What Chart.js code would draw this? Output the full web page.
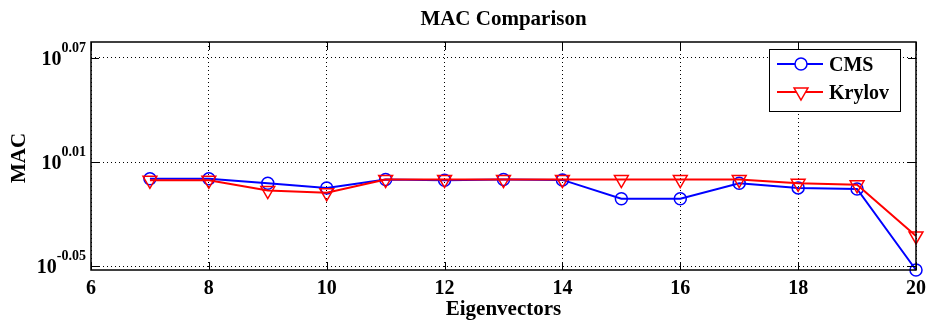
<!DOCTYPE html>
<html>
<head>
<meta charset="utf-8">
<title>MAC Comparison</title>
<script src="https://cdn.jsdelivr.net/npm/chart.js@4.4.1/dist/chart.umd.min.js"></script>
<style>
    html, body { margin: 0; padding: 0; background: #fff; }
    #wrap { width: 932px; height: 323px; }
</style>
</head>
<body>
<div id="wrap"><canvas id="macChart" width="932" height="323"></canvas></div>
<script>
const eigenvectors = [7, 8, 9, 10, 11, 12, 13, 14, 15, 16, 17, 18, 19, 20];
const cmsMac    = [1.001, 1.001, 0.995, 0.9888, 1.000, 0.999, 1.000, 0.9995, 0.9748, 0.9748, 0.995, 0.989, 0.9875, 0.887];
const krylovMac = [0.999, 0.999, 0.9855, 0.9826, 1.000, 1.000, 1.000, 1.000, 1.000, 1.000, 1.000, 0.995, 0.993, 0.928];
const xTicks = [6, 8, 10, 12, 14, 16, 18, 20];
const yTickExps = ["-0.05", "0.01", "0.07"];
const yRange = [0.887, 1.2];

const FONT = '"Liberation Serif", "Times New Roman", serif';
const points = vals => eigenvectors.map((x, i) => ({ x, y: vals[i] }));

const series = [
    { label: "CMS", color: "#0000ff", style: "circle", radius: 6, rotation: 0 },
    { label: "Krylov", color: "#ff0000", style: "triangle", radius: 8, rotation: 180 }
];

// axes box, inward ticks, labels and legend in the old plotting-tool look
const frame = {
    id: "frame",
    afterDatasetsDraw(chart) {
        const { ctx, chartArea: a, scales: { x, y } } = chart;
        ctx.save();

        ctx.strokeStyle = "#000";
        ctx.lineWidth = 1.5;
        ctx.strokeRect(a.left, a.top, a.right - a.left, a.bottom - a.top);

        ctx.lineWidth = 1;
        ctx.beginPath();
        xTicks.forEach(v => {
            const px = Math.round(x.getPixelForValue(v)) + 0.5;
            ctx.moveTo(px, a.bottom); ctx.lineTo(px, a.bottom - 8);
            ctx.moveTo(px, a.top); ctx.lineTo(px, a.top + 8);
        });
        yTickExps.forEach(s => {
            const py = Math.round(y.getPixelForValue(Math.pow(10, parseFloat(s)))) + 0.5;
            ctx.moveTo(a.left, py); ctx.lineTo(a.left + 8, py);
            ctx.moveTo(a.right, py); ctx.lineTo(a.right - 8, py);
        });
        ctx.stroke();

        ctx.fillStyle = "#000";
        ctx.textBaseline = "alphabetic";

        // x tick labels
        ctx.font = `bold 20px ${FONT}`;
        ctx.textAlign = "center";
        xTicks.forEach(v => ctx.fillText(String(v), x.getPixelForValue(v), 294));

        // y tick labels: 10 with the exponent raised
        yTickExps.forEach(s => {
            const py = y.getPixelForValue(Math.pow(10, parseFloat(s)));
            ctx.font = `bold 14px ${FONT}`;
            const supW = ctx.measureText(s).width;
            ctx.font = `bold 20px ${FONT}`;
            const baseW = ctx.measureText("10").width;
            const right = a.left - 5;
            ctx.textAlign = "left";
            ctx.fillText("10", right - supW - baseW, py + 7);
            ctx.font = `bold 14px ${FONT}`;
            ctx.fillText(s, right - supW, py - 6);
        });

        // title and axis titles
        ctx.font = `bold 21px ${FONT}`;
        ctx.textAlign = "center";
        const cx = (a.left + a.right) / 2;
        ctx.fillText("MAC Comparison", cx, 25);
        ctx.fillText("Eigenvectors", cx, 315);
        ctx.save();
        ctx.translate(25, (a.top + a.bottom) / 2 + 2);
        ctx.rotate(-Math.PI / 2);
        ctx.fillText("MAC", 0, 0);
        ctx.restore();

        // legend
        const lx = 769, ly = 49, lw = 131, lh = 62;
        ctx.fillStyle = "#fff";
        ctx.fillRect(lx, ly, lw, lh);
        ctx.strokeStyle = "#000";
        ctx.lineWidth = 1;
        ctx.strokeRect(lx + 0.5, ly + 0.5, lw, lh);
        series.forEach((s, i) => {
            const ry = 64 + i * 28;
            ctx.strokeStyle = s.color;
            ctx.lineWidth = 2;
            ctx.beginPath();
            ctx.moveTo(lx + 8, ry); ctx.lineTo(lx + 54, ry);
            ctx.stroke();
            ctx.fillStyle = "#fff";
            ctx.lineWidth = 1.5;
            Chart.helpers.drawPoint(ctx, {
                pointStyle: s.style, radius: s.radius, rotation: s.rotation, borderWidth: 1.5
            }, lx + 32, ry);
            ctx.fillStyle = "#000";
            ctx.font = `bold 20px ${FONT}`;
            ctx.textAlign = "left";
            ctx.fillText(s.label, lx + 60, ry + 7);
        });

        ctx.restore();
    }
};

const dataset = (s, vals, order) => ({
    label: s.label,
    data: points(vals),
    borderColor: s.color,
    borderWidth: 2,
    pointStyle: s.style,
    pointRadius: s.radius,
    pointRotation: s.rotation,
    pointBorderWidth: 1.5,
    pointBorderColor: s.color,
    pointBackgroundColor: "rgba(0,0,0,0)",
    tension: 0,
    clip: false,
    order
});

new Chart(document.getElementById("macChart"), {
    type: "line",
    data: {
        datasets: [
            dataset(series[0], cmsMac, 2),
            dataset(series[1], krylovMac, 1)
        ]
    },
    options: {
        responsive: false,
        animation: false,
        devicePixelRatio: 1,
        layout: { padding: { left: 91, right: 16, top: 42, bottom: 53 } },
        plugins: { legend: { display: false }, tooltip: { enabled: false } },
        scales: {
            x: {
                type: "linear",
                min: xTicks[0],
                max: xTicks[xTicks.length - 1],
                afterBuildTicks: s => { s.ticks = xTicks.map(v => ({ value: v })); },
                ticks: { display: false },
                grid: { color: "#000", lineWidth: 1, drawTicks: false },
                border: { display: false, dash: [1, 3] }
            },
            y: {
                type: "logarithmic",
                min: yRange[0],
                max: yRange[1],
                afterBuildTicks: s => { s.ticks = yTickExps.map(e => ({ value: Math.pow(10, parseFloat(e)) })); },
                ticks: { display: false },
                grid: { color: "#000", lineWidth: 1, drawTicks: false },
                border: { display: false, dash: [1, 3] }
            }
        }
    },
    plugins: [frame]
});
</script>
</body>
</html>
